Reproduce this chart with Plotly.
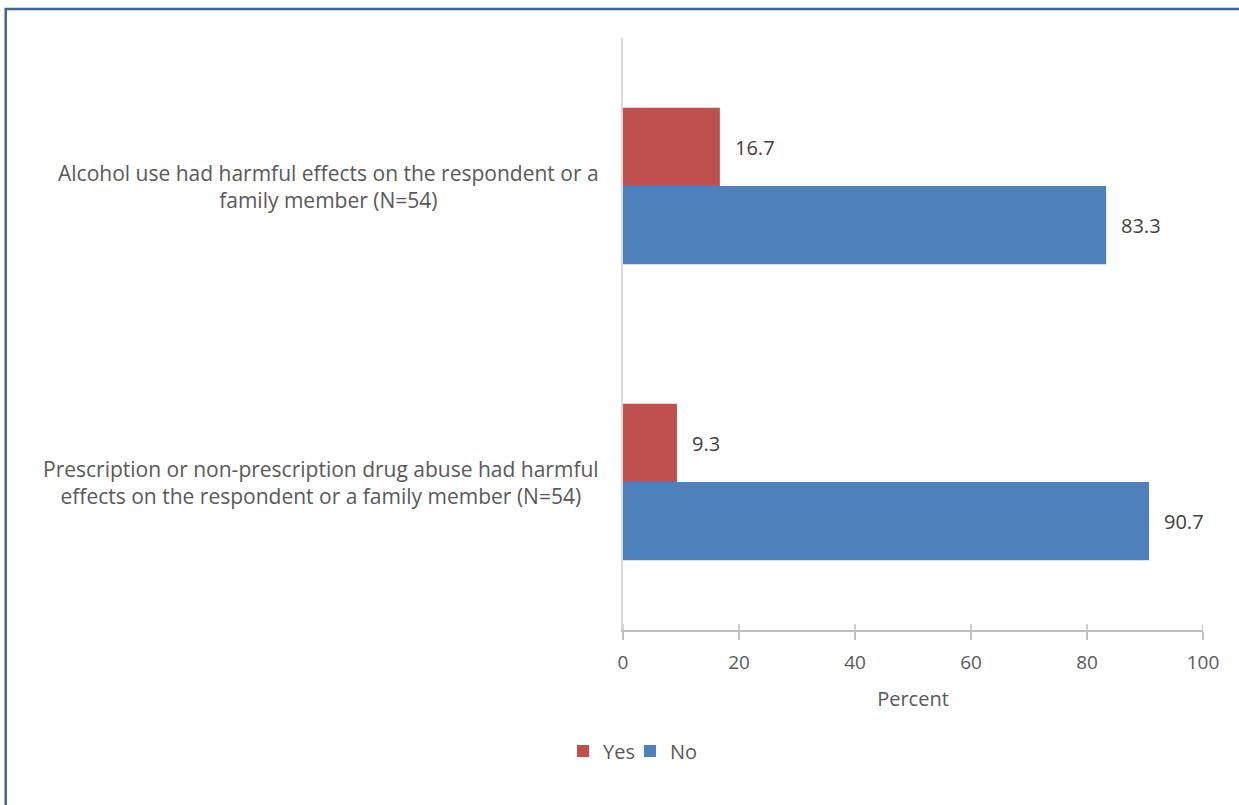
import plotly.graph_objects as go

categories = [
    "Alcohol use had harmful effects on the respondent or a<br>family member (N=54)",
    "Prescription or non-prescription drug abuse had harmful<br>effects on the respondent or a family member (N=54)",
]
cat_keys = ["alcohol", "drug"]
yes_values = [16.7, 9.3]
no_values = [83.3, 90.7]
x_ticks = [0, 20, 40, 60, 80, 100]

FONT = "Open Sans"
TXT = "#595959"
VAL = "#404040"

fig = go.Figure()
fig.add_trace(go.Bar(y=cat_keys, x=yes_values, name="Yes", orientation="h",
                     marker=dict(color="#C0504D", line=dict(width=0))))
fig.add_trace(go.Bar(y=cat_keys, x=no_values, name="No", orientation="h",
                     marker=dict(color="#4F81BD", line=dict(width=0))))

annotations = []
for key, label in zip(cat_keys, categories):
    annotations.append(dict(
        x=(601 - 623) / 580, xref="paper", y=key, yref="y", text=label, showarrow=False,
        xanchor="right", yanchor="middle", align="center",
        font=dict(family=FONT, size=21, color=TXT),
    ))
for vals, shift in ((yes_values, 39), (no_values, -39)):
    for key, v in zip(cat_keys, vals):
        annotations.append(dict(
            x=v, xref="x", y=key, yref="y", text=f"{v:.1f}", showarrow=False,
            xanchor="left", yanchor="middle", xshift=13, yshift=shift,
            font=dict(family=FONT, size=20, color=VAL),
        ))

shapes = []
for t in x_ticks:
    shapes.append(dict(type="line", xref="x", yref="paper", x0=t, x1=t,
                       y0=0, y1=6 / 592, line=dict(color="#BFBFBF", width=1.5)))
shapes.append(dict(type="rect", xref="paper", yref="paper",
                   x0=(5.7 - 623) / 580, x1=(1260 - 623) / 580,
                   y0=(630 - 830) / 592, y1=(630 - 9) / 592,
                   line=dict(color="#3F6597", width=2.5)))

fig.update_layout(
    width=1239, height=805,
    margin=dict(l=623, r=36, t=38, b=175),
    paper_bgcolor="white", plot_bgcolor="white",
    barmode="group", bargap=0.472, bargroupgap=0,
    font=dict(family=FONT, size=20, color=TXT),
    showlegend=True,
    legend=dict(orientation="h", x=(630 - 623) / 580, xanchor="center",
                y=(630 - 751) / 592, yanchor="middle",
                entrywidth=22, entrywidthmode="pixels",
                font=dict(family=FONT, size=20, color=TXT)),
    xaxis=dict(range=[0, 100], tickvals=x_ticks, ticks="outside", ticklen=8,
               tickcolor="#BFBFBF", tickwidth=1.5, showline=True, linecolor="#BFBFBF",
               linewidth=1.5, showgrid=False, zeroline=False, ticklabelstandoff=6,
               tickfont=dict(family=FONT, size=19, color=TXT),
               title=dict(text="Percent", font=dict(family=FONT, size=20, color=TXT), standoff=18)),
    yaxis=dict(autorange="reversed", showticklabels=False, ticks="", showline=True,
               linecolor="#D9D9D9", linewidth=2, showgrid=False, zeroline=False),
    annotations=annotations, shapes=shapes,
)

fig.write_html("out.html", config={"displayModeBar": False},
               post_script="document.body.style.margin='0';document.body.style.overflow='hidden';")
